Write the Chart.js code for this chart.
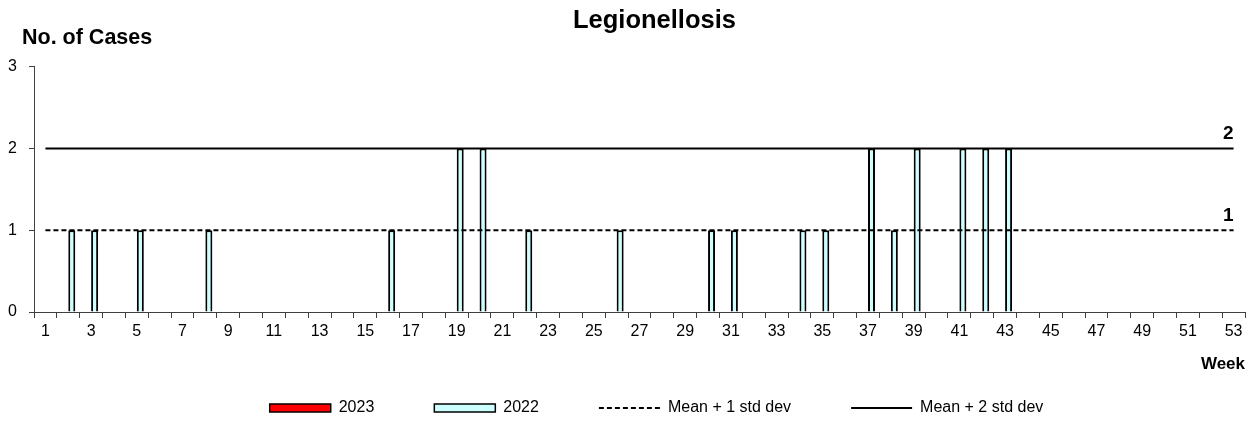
<!DOCTYPE html>
<html>
<head>
<meta charset="utf-8">
<script src="https://cdn.jsdelivr.net/npm/chart.js@4/dist/chart.umd.min.js"></script>
<style>
  html, body { margin: 0; padding: 0; background: #fff; }
  #wrap { width: 1248px; height: 421px; }
</style>
</head>
<body>
<div id="wrap"><canvas id="c"></canvas></div>
<script>
'use strict';

// weeks 1..53
var weeks = [];
for (var w = 1; w <= 53; w++) weeks.push(String(w));

var cases2023 = [];
var cases2022 = [0,1,1,0,1,0,0,1,0,0, 0,0,0,0,0,1,0,0,2,2,
                 0,1,0,0,0,1,0,0,0,1, 1,0,0,1,1,0,2,1,2,0,
                 2,2,2,0,0,0,0,0,0,0, 0,0,0];
var meanPlus1 = [1,1,1,1,1,1,1,1,1,1, 1,1,1,1,1,1,1,1,1,1,
                 1,1,1,1,1,1,1,1,1,1, 1,1,1,1,1,1,1,1,1,1,
                 1,1,1,1,1,1,1,1,1,1, 1,1,1];
var meanPlus2 = [2,2,2,2,2,2,2,2,2,2, 2,2,2,2,2,2,2,2,2,2,
                 2,2,2,2,2,2,2,2,2,2, 2,2,2,2,2,2,2,2,2,2,
                 2,2,2,2,2,2,2,2,2,2, 2,2,2];
var yTicks = [0, 1, 2, 3];

var FONT = '"Liberation Sans", Arial, sans-serif';

// legend sits lower than its layout slot and the title is off-centre, like the Excel original
var placeBoxes = {
  id: 'placeBoxes',
  beforeLayout: function (chart) {
    var lg = chart.legend;
    if (lg && !lg._patched) {
      var fit = lg.fit;
      lg.fit = function () { fit.apply(this, arguments); this.height = 46; };
      lg._patched = true;
    }
  },
  afterLayout: function (chart) {
    var lg = chart.legend;
    lg.top = lg.bottom - 81;
    lg.left += 30; lg.right += 30;
    var t = chart.titleBlock;
    if (t) { t.left += 28; t.right += 28; }
  }
};

// extra text: y-axis caption and the threshold values at the right end
var extraText = {
  id: 'extraText',
  afterDraw: function (chart) {
    var ctx = chart.ctx;
    var area = chart.chartArea;
    var x = chart.scales.x, y = chart.scales.y;
    ctx.save();
    ctx.fillStyle = '#000';
    ctx.font = 'bold 21.5px ' + FONT;
    ctx.textAlign = 'left';
    ctx.textBaseline = 'middle';
    ctx.fillText('No. of Cases', area.left - 12, area.top - 29);

    ctx.font = 'bold 19px ' + FONT;
    var xEnd = x.getPixelForValue(weeks.length - 1);
    ctx.textAlign = 'right';
    ctx.textBaseline = 'bottom';
    var v2 = meanPlus2[meanPlus2.length - 1], v1 = meanPlus1[meanPlus1.length - 1];
    ctx.fillText(String(v2), xEnd, y.getPixelForValue(v2) - 5);
    ctx.fillText(String(v1), xEnd, y.getPixelForValue(v1) - 5);
    ctx.restore();
  }
};

var ctx = document.getElementById('c').getContext('2d');
new Chart(ctx, {
  type: 'bar',
  data: {
    labels: weeks,
    datasets: [
      {
        label: '2023', data: cases2023,
        backgroundColor: '#FF0000', borderColor: '#000', borderWidth: 2,
        pointStyle: 'rect', order: 2
      },
      {
        label: '2022', data: cases2022,
        backgroundColor: '#CCFFFF', borderColor: '#000', borderWidth: 2,
        pointStyle: 'rect', order: 2
      },
      {
        type: 'line', label: 'Mean + 1 std dev', data: meanPlus1,
        borderColor: '#000', backgroundColor: '#000', borderWidth: 2,
        borderDash: [5, 3], pointRadius: 0, pointStyle: 'line', order: 1
      },
      {
        type: 'line', label: 'Mean + 2 std dev', data: meanPlus2,
        borderColor: '#000', backgroundColor: '#000', borderWidth: 2,
        pointRadius: 0, pointStyle: 'line', order: 1
      }
    ]
  },
  options: {
    responsive: true,
    maintainAspectRatio: false,
    animation: false,
    datasets: { bar: { categoryPercentage: 0.613, barPercentage: 1.0 } },
    layout: { padding: { left: 8, right: 3, top: 0, bottom: 0 } },
    plugins: {
      title: {
        display: true, text: 'Legionellosis', color: '#000',
        font: { family: FONT, size: 25.5, weight: 'bold' },
        padding: { top: 6, bottom: 30 }
      },
      legend: {
        position: 'bottom',
        labels: {
          usePointStyle: true, pointStyleWidth: 61, boxHeight: 8,
          color: '#000', padding: 60,
          font: { family: FONT, size: 16 },
          sort: function (a, b) { return a.datasetIndex - b.datasetIndex; },
          generateLabels: function (chart) {
            var items = Chart.defaults.plugins.legend.labels.generateLabels(chart);
            items.forEach(function (it) {
              var ds = chart.data.datasets[it.datasetIndex];
              it.lineDash = ds.borderDash || [];
              it.lineWidth = ds.type === 'line' ? 2 : 1.5;
              it.strokeStyle = '#000';
            });
            return items;
          }
        }
      },
      tooltip: { enabled: false }
    },
    scales: {
      x: {
        offset: true,
        afterFit: function (s) { s.height = 63; },
        grid: { display: true, offset: true, drawOnChartArea: false, drawTicks: true, tickLength: 6, color: '#404040' },
        border: { color: '#404040', width: 1 },
        ticks: {
          autoSkip: false, maxRotation: 0, color: '#000', padding: 4,
          font: { family: FONT, size: 16 },
          callback: function (v, i) { return i % 2 === 0 ? weeks[i] : ''; }
        },
        title: {
          display: true, text: 'Week', align: 'end', color: '#000',
          font: { family: FONT, size: 17, weight: 'bold' },
          padding: { top: 13, bottom: 0 }
        }
      },
      y: {
        min: yTicks[0], max: yTicks[yTicks.length - 1],
        afterBuildTicks: function (s) { s.ticks = yTicks.map(function (v) { return { value: v }; }); },
        afterFit: function (s) { s.width = 26; },
        grid: { display: true, drawOnChartArea: false, drawTicks: true, tickLength: 5, color: '#404040' },
        border: { color: '#404040', width: 1 },
        ticks: { color: '#000', padding: 12, font: { family: FONT, size: 16 } }
      }
    }
  },
  plugins: [placeBoxes, extraText]
});
</script>
</body>
</html>
